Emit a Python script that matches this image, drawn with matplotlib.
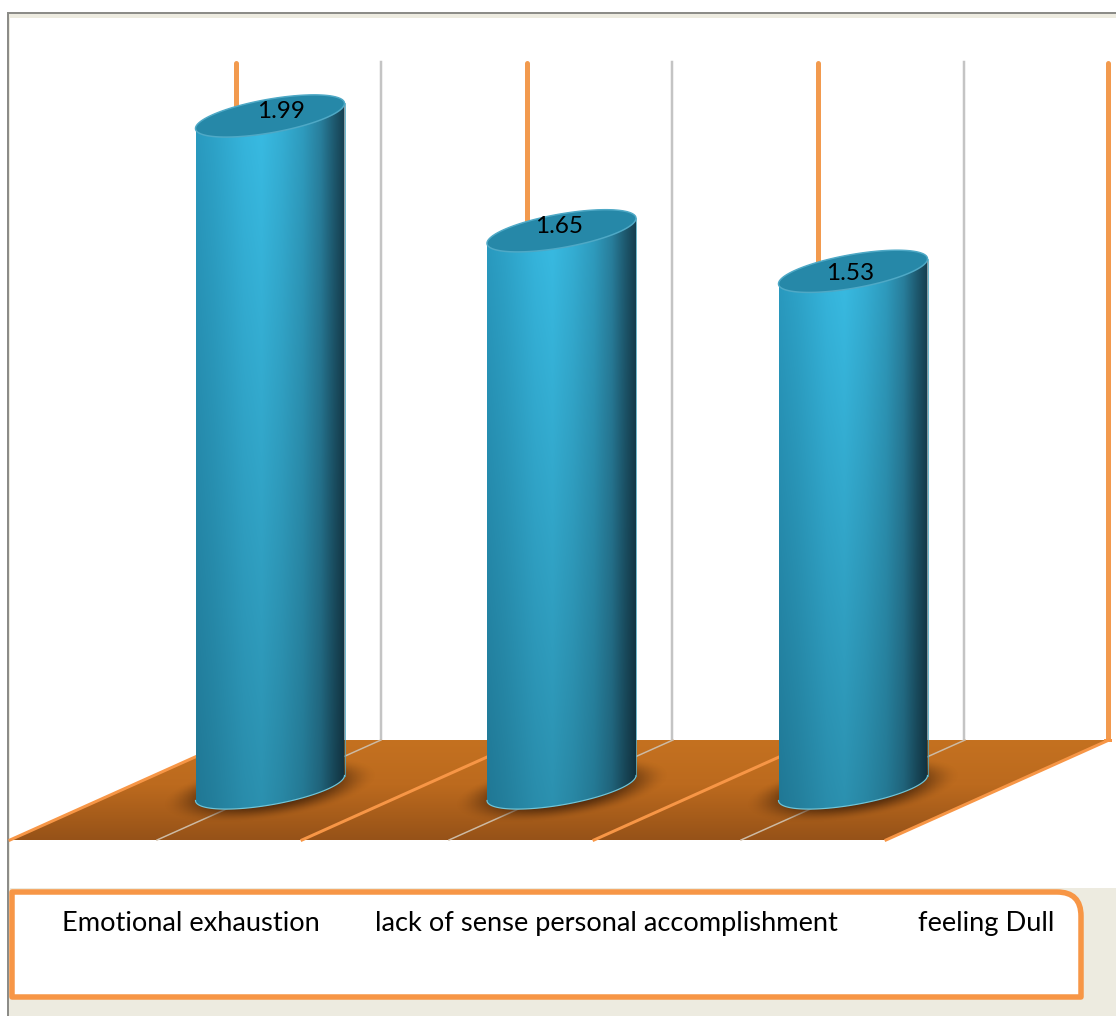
import numpy as np
import matplotlib
matplotlib.use("Agg")
import matplotlib.pyplot as plt
from matplotlib.path import Path
from matplotlib.patches import PathPatch, Polygon, Rectangle
from matplotlib.colors import to_rgb

categories = ["Emotional exhaustion", "lack of sense personal accomplishment", "feeling Dull"]
values = [1.99, 1.65, 1.53]

W, H = 1116, 1016
ORANGE = "#F79646"
BEIGE = "#EDEBE0"
FONT = "Lato"

# pixel position of category 0 and value 0, and the size of one unit
X0, X_STEP = 270.0, 291.5
Y0, Y_STEP = 788.0, 337.7

# cylinder shape, in axis units
half_w = 74.5 / X_STEP
tilt = 12.5 / Y_STEP
minor = 17.0 / Y_STEP

# label placement: pixel offset of the baseline from each cylinder top
label_dx = [11, -2, -3]
label_dy = [2, 2, 9]
tick_x = [191, 606, 986]


def px_w(n):
    return n * 0.72


def ramp(stops, n):
    pos = [s[0] for s in stops]
    rgb = np.array([to_rgb(s[1]) for s in stops])
    t = np.linspace(0, 1, n)
    return np.stack([np.interp(t, pos, rgb[:, i]) for i in range(3)], axis=-1)


def ellipse(cx, cy, t):
    x = cx + half_w * np.cos(t)
    y = cy + tilt * np.cos(t) + minor * np.sin(t)
    return x, y


fig = plt.figure(figsize=(W / 100, H / 100), dpi=100, facecolor="white")

# background layer in pixels: frame, walls, floor, legend box
bg = fig.add_axes([0, 0, 1, 1])
bg.axis("off")
bg.add_patch(Rectangle((8, 12), W - 8, H - 12, fc=BEIGE, ec="none", zorder=0))
bg.add_patch(Rectangle((10, 18), W - 10, 870, fc="white", ec="none", zorder=1))
bg.plot([7.5, 7.5, W], [H, 12.5, 12.5], color="#8c8c88", lw=px_w(2), zorder=2,
        solid_joinstyle="miter")

# wall gridlines
for x in [236, 527, 818, 1108]:
    bg.plot([x, x], [63, 739], color="#F29A4E", lw=px_w(5), zorder=3, solid_capstyle="round")
for x in [381, 672, 964]:
    bg.plot([x, x], [62, 740], color="#C4C4C4", lw=px_w(2.5), zorder=3)

# floor with a vertical gradient
floor_pts = [(10, 840), (886, 840), (1108, 740), (232, 740)]
floor_col = ramp([(0, "#C47120"), (0.45, "#BC6A1E"), (1, "#965218")], 100)[:, None, :]
im = bg.imshow(floor_col, extent=(10, 1108, 840, 740), aspect="auto", zorder=3.2)
clip = Polygon(floor_pts, transform=bg.transData, fc="none", ec="none")
bg.add_patch(clip)
im.set_clip_path(clip)
for x in [157, 449, 741]:
    bg.plot([x, x + 224], [840, 740], color="#CDBBA5", lw=px_w(1.5), zorder=3.4)
for x in [10, 302, 594, 886]:
    bg.plot([x, x + 223], [840, 740], color=ORANGE, lw=px_w(3), zorder=3.5)
bg.plot([1105, 1110], [740, 740], color=ORANGE, lw=px_w(3), zorder=3.5)

# legend box, only the top right corner is rounded
L, R, T, B = 12, 1081, 892, 997
rad = 24
box = Path([(L, T), (R - rad, T), (R, T), (R, T + rad), (R, B), (L, B), (L, T)],
           [Path.MOVETO, Path.LINETO, Path.CURVE3, Path.CURVE3, Path.LINETO, Path.LINETO, Path.CLOSEPOLY])
bg.add_patch(PathPatch(box, fc="white", ec=ORANGE, lw=px_w(5.5), zorder=4, joinstyle="round"))
for name, x in zip(categories, tick_x):
    bg.text(x, 931, name, ha="center", va="baseline", fontsize=19.6, family=FONT, color="black", zorder=5)

bg.set_xlim(0, W)
bg.set_ylim(H, 0)

# chart layer in category / value units
ax = fig.add_axes([0, 0, 1, 1])
ax.axis("off")
ax.patch.set_alpha(0)

across = ramp([(0, "#2A9CC2"), (0.12, "#2EA5CB"), (0.32, "#36B7DF"), (0.44, "#39BDE5"),
               (0.58, "#35B0D6"), (0.72, "#2F9DC0"), (0.84, "#29809E"), (0.93, "#1E5A70"),
               (1, "#163F50")], 200)
down = np.linspace(1.0, 0.76, 200)[:, None, None]
body_img = np.clip(across[None, :, :] * down, 0, 1)

for i, v in enumerate(values):
    # soft shadow on the floor
    sx = np.linspace(i - 0.40, i + 0.40, 180)
    sy = np.linspace(-0.14, 0.14, 100)
    gx, gy = np.meshgrid(sx, sy)
    u = (gx - i) / 0.37
    w = (gy + 0.006 - tilt * u * 1.2) / 0.088
    d = np.sqrt(u ** 2 + w ** 2)
    s = np.clip((1 - d) / 0.55, 0, 1)
    rgba = np.zeros(gx.shape + (4,))
    rgba[..., :3] = to_rgb("#3A1D08")
    rgba[..., 3] = 0.8 * s * s * (3 - 2 * s)
    ax.imshow(rgba, extent=(sx[0], sx[-1], sy[0], sy[-1]), origin="lower", aspect="auto", zorder=1)

    # body: lower arc of the base, then upper arc of the top
    t_low = np.linspace(np.pi, 2 * np.pi, 80)
    t_up = np.linspace(0, np.pi, 80)
    bx, by = ellipse(i, 0, t_low)
    tx, ty = ellipse(i, v, t_up)
    outline = np.column_stack([np.r_[bx, tx], np.r_[by, ty]])
    body = ax.imshow(body_img, extent=(i - half_w, i + half_w, -0.1, v + 0.1), origin="upper",
                     aspect="auto", zorder=2)
    patch = Polygon(outline, closed=True, transform=ax.transData, fc="none", ec="none")
    ax.add_patch(patch)
    body.set_clip_path(patch)
    ax.plot(bx, by, color="#6FC6DA", lw=px_w(1.2), zorder=3)
    ax.plot([i + half_w, i + half_w], [by[-1], v + tilt], color="#4FA9C2", lw=px_w(0.8), zorder=3)

    # top face
    t_all = np.linspace(0, 2 * np.pi, 160)
    ex, ey = ellipse(i, v, t_all)
    ax.fill(ex, ey, fc="#2688A8", ec="#4FA9C6", lw=px_w(1.5), zorder=4)

    ax.text(i + label_dx[i] / X_STEP, v - label_dy[i] / Y_STEP, f"{v:.2f}", ha="center", va="baseline",
            fontsize=17.5, family=FONT, color="black", zorder=6)

ax.set_xlim(-X0 / X_STEP, (W - X0) / X_STEP)
ax.set_ylim((Y0 - H) / Y_STEP, Y0 / Y_STEP)

fig.savefig("out.png", dpi=100)
